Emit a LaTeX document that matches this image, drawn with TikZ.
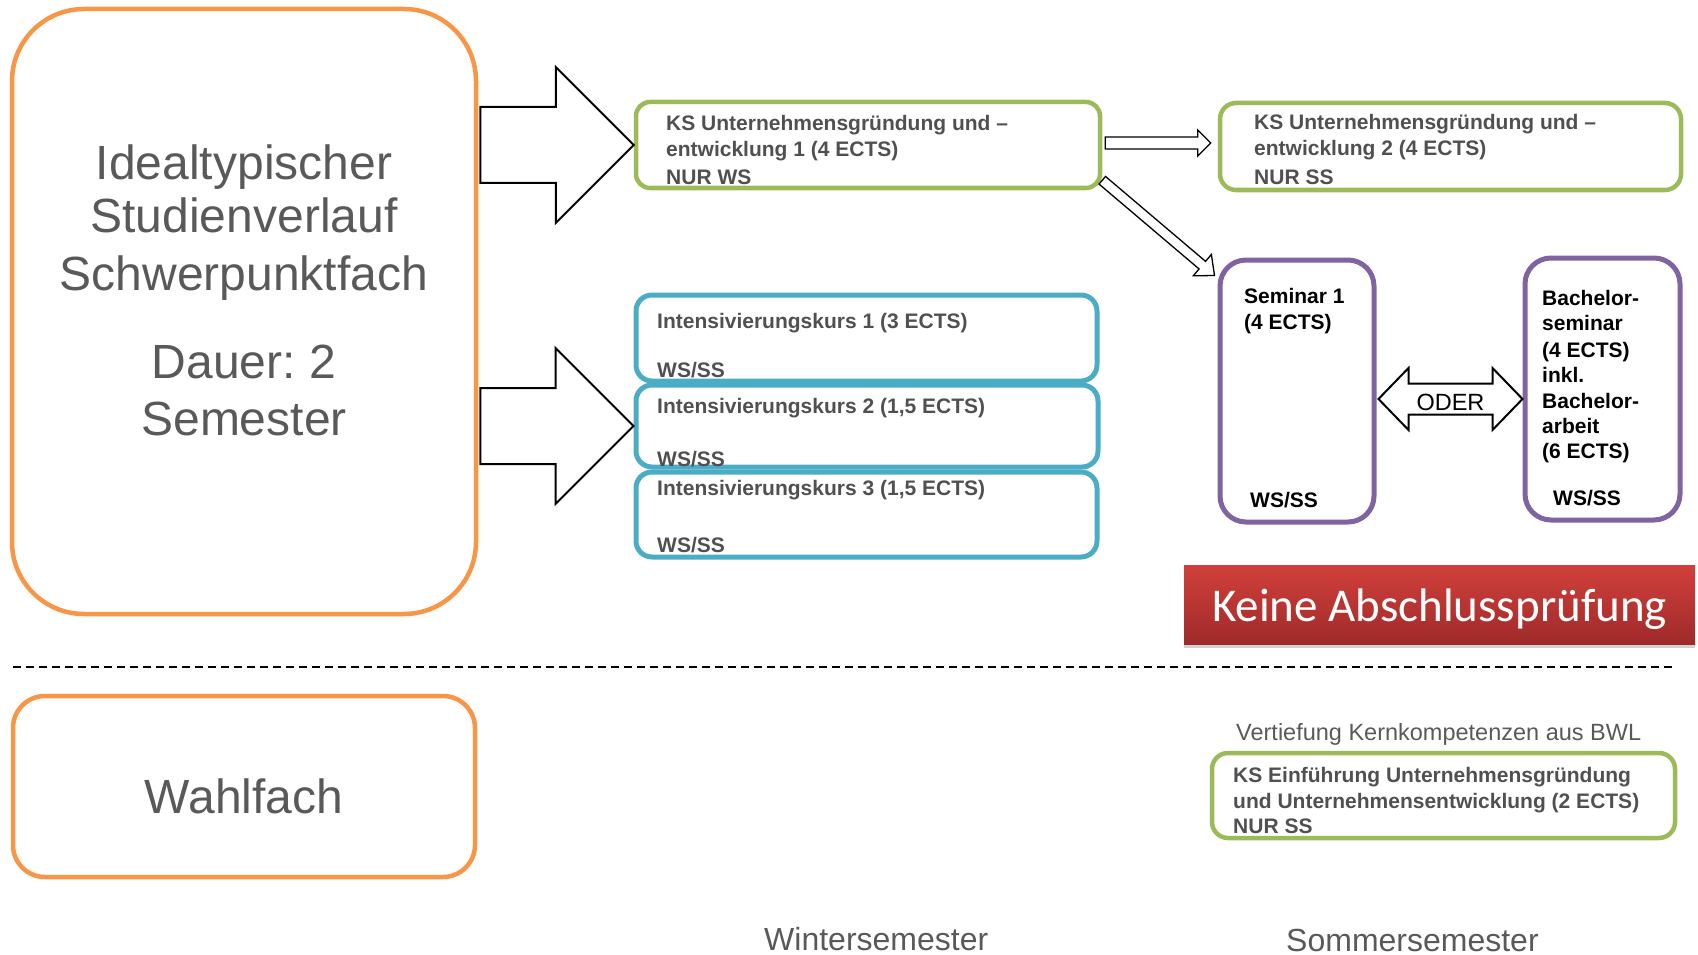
\documentclass[tikz,border=0pt]{standalone}
\usepackage{fontspec}
\setmainfont{Liberation Sans}
\newfontfamily\calibrifont{Carlito}
\usetikzlibrary{calc,shadows}
\definecolor{orangeb}{HTML}{F79646}
\definecolor{greenb}{HTML}{9BBB59}
\definecolor{blueb}{HTML}{4BACC6}
\definecolor{purpleb}{HTML}{8064A2}
\definecolor{txtgray}{HTML}{595959}
\definecolor{boxgray}{HTML}{505050}
\definecolor{redtop}{HTML}{D1403B}
\definecolor{redbot}{HTML}{9F2A2A}
% style, start, end, half shaft width, half head width, head length
\newcommand\hollowarrow[6]{%
  \draw[#1] ($(#2)!#4!90:(#3)$) -- ($(#3)!#6!(#2)!#4!-90:(#2)$) -- ($(#3)!#6!(#2)!#5!-90:(#2)$) -- (#3)
    -- ($(#3)!#6!(#2)!#5!90:(#2)$) -- ($(#3)!#6!(#2)!#4!90:(#2)$) -- ($(#2)!#4!-90:(#3)$) -- cycle;}
\frenchspacing
\begin{document}
\begin{tikzpicture}[x=1pt,y=-1pt,
  orangebox/.style={draw=orangeb, line width=4.5pt, rounded corners=#1, inner sep=0pt},
  greenbox/.style={draw=greenb, line width=4.5pt, rounded corners=#1, inner sep=0pt},
  bluebox/.style={draw=blueb, line width=5pt, rounded corners=#1, inner sep=0pt},
  purplebox/.style={draw=purpleb, line width=5pt, rounded corners=#1, inner sep=0pt},
  bigtxt/.style={inner sep=0pt, anchor=base, text=txtgray, font=\fontsize{48}{58}\selectfont},
  boxtxt/.style={inner sep=0pt, anchor=base west, text=boxgray, font=\fontsize{21}{25}\selectfont\bfseries},
  blacktxt/.style={inner sep=0pt, anchor=base west, text=black, font=\fontsize{21}{25}\selectfont\bfseries},
  semtxt/.style={inner sep=0pt, anchor=base west, text=txtgray, font=\fontsize{32}{38}\selectfont},
  bigarrow/.style={draw=black, line width=2pt, fill=white, line join=miter},
  smallarrow/.style={draw=black, line width=1.3pt, fill=white, line join=miter},
  dashline/.style={draw=black, line width=2.5pt, dash pattern=on 8pt off 5pt}]
\useasboundingbox (0,0) rectangle (1698,955);

% main boxes
\node[orangebox=72pt, minimum width=464pt, minimum height=605pt] (big) at (244,311.5) {};
\node[orangebox=32pt, minimum width=462pt, minimum height=181pt] (wahl) at (244,786.5) {};
\node[greenbox=14pt, minimum width=464pt, minimum height=86pt] (ks1) at (868,145) {};
\node[greenbox=16pt, minimum width=461pt, minimum height=87pt] (ks2) at (1450.5,146.5) {};
\node[bluebox=16pt, minimum width=461pt, minimum height=86pt] (int1) at (866.5,338) {};
\node[bluebox=16pt, minimum width=462pt, minimum height=82pt] (int2) at (867,426) {};
\node[bluebox=16pt, minimum width=461pt, minimum height=85pt] (int3) at (866.5,514.5) {};
\node[purplebox=26pt, minimum width=154pt, minimum height=262pt] (sem) at (1297,391) {};
\node[purplebox=26pt, minimum width=155pt, minimum height=262pt] (bach) at (1602.5,389) {};
\node[greenbox=16pt, minimum width=463pt, minimum height=85pt] (ks3) at (1443.5,795.5) {};
\node[inner sep=0pt, minimum width=511pt, minimum height=79pt, top color=redtop, bottom color=redbot,
      drop shadow={shadow xshift=0pt, shadow yshift=-4pt, opacity=0.18, fill=black}] (red) at (1439.5,604.5) {};

% texts in the big box
\node[bigtxt] (t1) at (244,179) {Idealtypischer};
\node[bigtxt] (t2) at (244,233) {Studienverlauf};
\node[bigtxt] (t3) at (244,290) {Schwerpunktfach};
\node[bigtxt] (t4) at (244,378) {Dauer: 2};
\node[bigtxt] (t5) at (244,435) {Semester};
\node[bigtxt] (tw) at (244,813) {Wahlfach};

% block arrows
\coordinate (a1s) at ($(big.east |- ks1.west)+(2,0)$);
\coordinate (a2s) at ($(big.east |- int2.west)+(2,0)$);
\hollowarrow{bigarrow}{a1s}{ks1.west}{38pt}{78pt}{78pt}
\hollowarrow{bigarrow}{a2s}{int2.west}{38pt}{78pt}{78pt}
\coordinate (r1s) at ($(ks1.east)+(3,-2)$);
\coordinate (r1e) at ($(ks2.west)+(-7,-3.5)$);
\hollowarrow{smallarrow}{r1s}{r1e}{6pt}{13pt}{13pt}
\coordinate (d1s) at ($(ks1.south east)+(0,-10)$);
\coordinate (d1e) at ($(sem.north west)+(-3,18)$);
\hollowarrow{smallarrow}{d1s}{d1e}{5pt}{14pt}{16pt}
\coordinate (oL) at ($(sem.east)+(2,8)$);
\coordinate (oR) at ($(bach.west)+(0,10)$);
\draw[bigarrow] (oL) -- ++(30,-31) -- ++(0,15.5) -- ($(oR)+(-30,-15.5)$) -- ++(0,-15.5) -- (oR)
   -- ++(-30,31) -- ++(0,-15.5) -- ($(oL)+(30,15.5)$) -- ++(0,15.5) -- cycle;
\node[inner sep=0pt, anchor=base, font=\fontsize{23.5}{28}\selectfont] (oder) at ($(oL)!0.5!(oR)+(0,11)$) {ODER};

% box texts
\node[boxtxt] (k1a) at (666,131) {KS Unternehmensgründung und –};
\node[boxtxt] (k1b) at (666,157) {entwicklung 1 (4 ECTS)};
\node[boxtxt] (k1c) at (666,185) {NUR WS};
\node[boxtxt] (k2a) at (1254,130) {KS Unternehmensgründung und –};
\node[boxtxt] (k2b) at (1254,156) {entwicklung 2 (4 ECTS)};
\node[boxtxt] (k2c) at (1254,185) {NUR SS};
\node[boxtxt] (i1a) at (657,328) {Intensivierungskurs 1 (3 ECTS)};
\node[boxtxt] (i1b) at (657,377) {WS/SS};
\node[boxtxt] (i2a) at (657,413) {Intensivierungskurs 2 (1,5 ECTS)};
\node[boxtxt] (i2b) at (657,466) {WS/SS};
\node[boxtxt] (i3a) at (657,495) {Intensivierungskurs 3 (1,5 ECTS)};
\node[boxtxt] (i3b) at (657,552) {WS/SS};
\node[blacktxt] (s1) at (1244,303) {Seminar 1};
\node[blacktxt] (s2) at (1244,329) {(4 ECTS)};
\node[blacktxt] (s3) at (1250,507) {WS/SS};
\node[blacktxt] (b1) at (1542,305) {Bachelor-};
\node[blacktxt] (b2) at (1542,330) {seminar};
\node[blacktxt] (b3) at (1542,357) {(4 ECTS)};
\node[blacktxt] (b4) at (1542,382) {inkl.};
\node[blacktxt] (b5) at (1542,408) {Bachelor-};
\node[blacktxt] (b6) at (1542,433) {arbeit};
\node[blacktxt] (b7) at (1542,458) {(6 ECTS)};
\node[blacktxt] (b8) at (1553,505) {WS/SS};
\node[inner sep=0pt, anchor=base, text=white, font=\calibrifont\fontsize{47}{56}\selectfont] (redt) at (1439.5,621) {Keine Abschlussprüfung};

% separator
\coordinate (dl) at (13,667);
\coordinate (dr) at (1676,667);
\draw[dashline] (dl) -- (dr);

% lower part
\node[inner sep=0pt, anchor=base west, text=txtgray, font=\fontsize{23.5}{28}\selectfont] (vert) at (1236,740) {Vertiefung Kernkompetenzen aus BWL};
\node[boxtxt] (k3a) at (1233,782) {KS Einführung Unternehmensgründung};
\node[boxtxt] (k3b) at (1233,808) {und Unternehmensentwicklung (2 ECTS)};
\node[boxtxt] (k3c) at (1233,833) {NUR SS};
\node[semtxt] (ws) at (764,950) {Wintersemester};
\node[semtxt] (ss) at (1286,951) {Sommersemester};
\end{tikzpicture}
\end{document}
